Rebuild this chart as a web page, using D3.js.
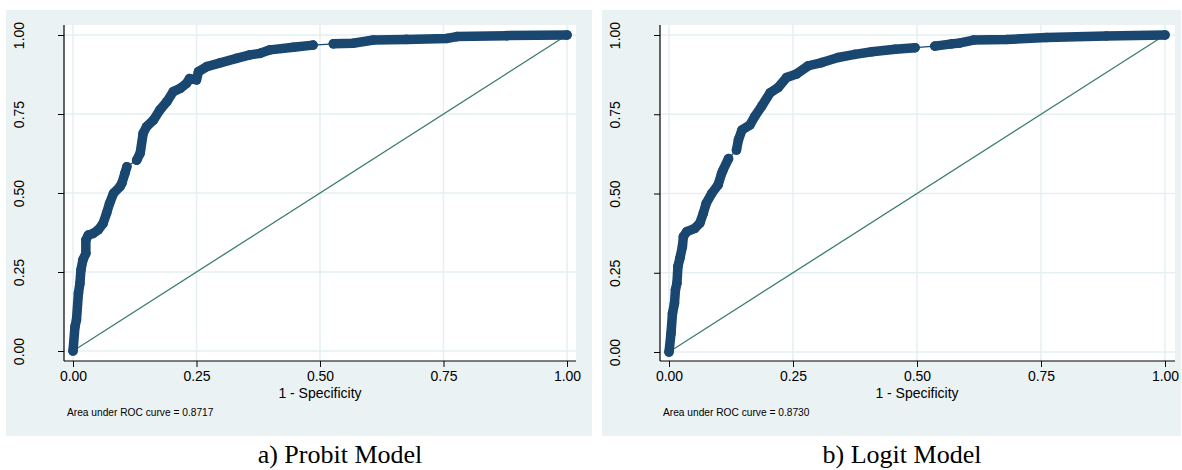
<!DOCTYPE html>
<html>
<head>
<meta charset="utf-8">
<script src="https://cdn.jsdelivr.net/npm/d3@7"></script>
<style>
  html, body { margin: 0; padding: 0; background: #fff; }
  svg { display: block; }
</style>
</head>
<body>
<svg id="chart" width="1182" height="470"></svg>
<script>
// ---- Data ----
const xTicks = [0, 0.25, 0.5, 0.75, 1];
const yTicks = [0, 0.25, 0.5, 0.75, 1];
const xTitle = "1 - Specificity";
const captions = ["a) Probit Model", "b) Logit Model"];
const aucLabels = ["Area under ROC curve = 0.8717", "Area under ROC curve = 0.8730"];

// dense runs of ROC points [1-specificity, sensitivity]; runs are joined by thin line
const probitRuns = [
  [[0,0],[0.004,0.077],[0.007,0.098],[0.011,0.183],[0.014,0.214],[0.016,0.256],[0.02,0.288],
   [0.026,0.309],[0.026,0.351],[0.031,0.367],[0.041,0.372],[0.051,0.383],[0.061,0.404],
   [0.068,0.436],[0.074,0.467],[0.082,0.499],[0.095,0.52],[0.099,0.531],[0.105,0.562],[0.109,0.583]],
  [[0.129,0.604],[0.136,0.626],[0.142,0.689],[0.149,0.71],[0.163,0.731],[0.176,0.763],
   [0.19,0.789],[0.203,0.821],[0.217,0.831],[0.23,0.847],[0.236,0.862],[0.25,0.858],
   [0.254,0.884],[0.271,0.9],[0.298,0.912],[0.331,0.926],[0.358,0.937],[0.379,0.942],
   [0.399,0.953],[0.446,0.961],[0.486,0.968]],
  [[0.527,0.972],[0.567,0.974],[0.608,0.984],[0.675,0.986],[0.756,0.989],[0.777,0.995],
   [0.878,0.998],[1,1]]
];
const logitRuns = [
  [[0,0],[0.004,0.058],[0.007,0.122],[0.011,0.153],[0.013,0.196],[0.016,0.217],[0.018,0.27],
   [0.022,0.296],[0.027,0.332],[0.029,0.364],[0.036,0.38],[0.052,0.39],[0.062,0.406],
   [0.069,0.437],[0.075,0.469],[0.086,0.5],[0.099,0.527],[0.106,0.563],[0.109,0.574],[0.12,0.61]],
  [[0.136,0.637],[0.14,0.669],[0.147,0.7],[0.163,0.716],[0.173,0.743],[0.187,0.776],
   [0.204,0.818],[0.22,0.834],[0.237,0.866],[0.257,0.877],[0.281,0.903],[0.308,0.913],
   [0.341,0.929],[0.375,0.939],[0.409,0.947],[0.456,0.955],[0.496,0.96]],
  [[0.536,0.965],[0.57,0.972],[0.587,0.975],[0.614,0.984],[0.681,0.986],[0.761,0.992],
   [0.882,0.997],[1,1]]
];
const seriesRuns = [probitRuns, logitRuns];

// ---- Layout ----
const layout = [
  { bg: [6, 10, 592, 436], plot: [64, 25, 576, 361], data: [73, 35, 567, 351], cap: 340 },
  { bg: [602, 10, 1181, 436], plot: [660, 25, 1175, 361], data: [669, 35, 1165, 352], cap: 902 }
];
const BG = "#eaf2f3", GRID = "#e6eff1", NAVY = "#1a476f", REF = "#3a7d6c";
const sans = "'Liberation Sans', Arial, Helvetica, sans-serif";
const serif = "'Liberation Serif', 'Times New Roman', serif";

const svg = d3.select("#chart");

layout.forEach((L, i) => {
  const g = svg.append("g");
  const [bx0, by0, bx1, by1] = L.bg;
  const [px0, py0, px1, py1] = L.plot;
  const [dx0, dy0, dx1, dy1] = L.data;

  g.append("rect").attr("x", bx0).attr("y", by0).attr("width", bx1 - bx0).attr("height", by1 - by0).attr("fill", BG);
  g.append("rect").attr("x", px0).attr("y", py0).attr("width", px1 - px0).attr("height", py1 - py0).attr("fill", "#fff");

  const x = d3.scaleLinear().domain([0, 1]).range([dx0, dx1]);
  const y = d3.scaleLinear().domain([0, 1]).range([dy1, dy0]);

  // grid
  g.append("g").selectAll("line.vx").data(xTicks).join("line")
    .attr("x1", d => x(d)).attr("x2", d => x(d)).attr("y1", py0).attr("y2", py1)
    .attr("stroke", GRID).attr("stroke-width", 1.5);
  g.append("g").selectAll("line.hy").data(yTicks).join("line")
    .attr("y1", d => y(d)).attr("y2", d => y(d)).attr("x1", px0).attr("x2", px1)
    .attr("stroke", GRID).attr("stroke-width", 1.5);

  // axes
  const xAxis = d3.axisBottom(x).tickValues(xTicks).tickFormat(d3.format(".2f")).tickSize(6).tickPadding(4);
  const gx = g.append("g").attr("transform", `translate(0,${py1})`).call(xAxis);
  gx.select(".domain").remove();
  gx.selectAll("line").attr("stroke", "#000");
  gx.selectAll("text").attr("font-family", sans).attr("font-size", 14).attr("fill", "#000");

  const yAxis = d3.axisLeft(y).tickValues(yTicks).tickFormat(d3.format(".2f")).tickSize(6).tickPadding(0);
  const gy = g.append("g").attr("transform", `translate(${px0},0)`).call(yAxis);
  gy.select(".domain").remove();
  gy.selectAll("line").attr("stroke", "#000");
  gy.selectAll("text").attr("font-family", sans).attr("font-size", 14).attr("fill", "#000")
    .attr("text-anchor", "middle").attr("dy", null).attr("x", null)
    .attr("transform", d => `translate(${-45},${0}) rotate(-90)`)
    .attr("y", 5);

  g.append("line").attr("x1", px0).attr("x2", px1).attr("y1", py1).attr("y2", py1).attr("stroke", "#000").attr("stroke-width", 1.2);
  g.append("line").attr("x1", px0).attr("x2", px0).attr("y1", py0).attr("y2", py1).attr("stroke", "#000").attr("stroke-width", 1.2);

  // reference diagonal
  g.append("line").attr("x1", x(0)).attr("y1", y(0)).attr("x2", x(1)).attr("y2", y(1))
    .attr("stroke", REF).attr("stroke-width", 1.3);

  // ROC curve
  const runs = seriesRuns[i];
  const all = runs.flat();
  const line = d3.line().x(d => x(d[0])).y(d => y(d[1]));
  g.append("path").attr("d", line(all)).attr("fill", "none").attr("stroke", NAVY).attr("stroke-width", 1.3);
  runs.forEach(run => {
    g.append("path").attr("d", line(run)).attr("fill", "none").attr("stroke", NAVY)
      .attr("stroke-width", 9.5).attr("stroke-linecap", "round").attr("stroke-linejoin", "round");
  });
  g.append("g").selectAll("circle").data(all).join("circle")
    .attr("cx", d => x(d[0])).attr("cy", d => y(d[1])).attr("r", 4.8).attr("fill", NAVY);

  // titles
  g.append("text").attr("x", x(0.5)).attr("y", 398).attr("text-anchor", "middle")
    .attr("font-family", sans).attr("font-size", 14).text(xTitle);
  g.append("text").attr("x", px0 + 3).attr("y", 416)
    .attr("font-family", sans).attr("font-size", 10.2).text(aucLabels[i]);
  g.append("text").attr("x", L.cap).attr("y", 463).attr("text-anchor", "middle")
    .attr("font-family", serif).attr("font-size", 26).text(captions[i]);
});
</script>
</body>
</html>
